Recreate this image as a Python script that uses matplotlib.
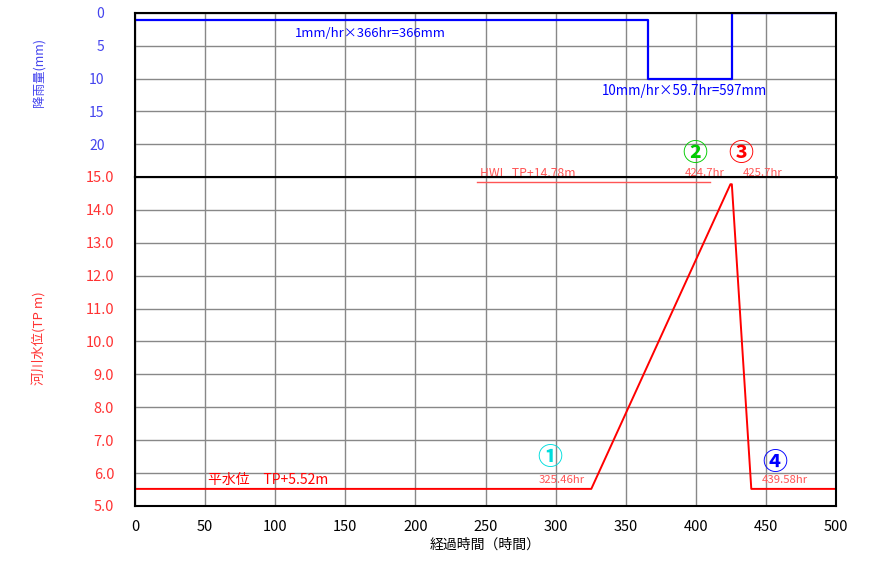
import matplotlib
matplotlib.use("Agg")
import matplotlib.pyplot as plt

plt.rcParams['font.family'] = ['Noto Sans CJK JP', 'DejaVu Sans']

# Data
rain_t = [0, 366, 366, 425.7, 425.7, 500]
rain_mm = [1, 1, 10, 10, 0, 0]
level_t = [0, 325.46, 424.7, 425.7, 439.58, 500]
level_m = [5.52, 5.52, 14.78, 14.78, 5.52, 5.52]
hwl = 14.78
x_ticks = [0, 50, 100, 150, 200, 250, 300, 350, 400, 450, 500]
rain_ticks = [0, 5, 10, 15, 20]
level_ticks = [5.0, 6.0, 7.0, 8.0, 9.0, 10.0, 11.0, 12.0, 13.0, 14.0, 15.0]

BLUE = '#0000FF'
TBLUE = '#4444EE'
RED = '#FF0000'
LRED = '#FF5555'
GRID = '#888888'

fig = plt.figure(figsize=(8.84, 5.62), dpi=100)
gs = fig.add_gridspec(2, 1, height_ratios=[164, 329], hspace=0,
                      left=135/884, right=836/884, top=1-13/562, bottom=1-506/562)
ax1 = fig.add_subplot(gs[0])
ax2 = fig.add_subplot(gs[1], sharex=ax1)

for ax in (ax1, ax2):
    ax.set_xlim(0, 500)
    ax.set_xticks(x_ticks)
    ax.grid(True, color=GRID, linewidth=1.0)
    ax.set_axisbelow(True)
    ax.tick_params(length=0)
    for s in ax.spines.values():
        s.set_color('black')
        s.set_linewidth(1.5)

# Top: rainfall
ax1.plot(rain_t, rain_mm, color=BLUE, linewidth=1.6)
ax1.set_ylim(25, 0)
ax1.set_yticks(rain_ticks)
ax1.set_yticklabels([str(v) for v in rain_ticks], color=TBLUE, fontsize=10)
ax1.tick_params(axis='y', pad=22)
ax1.tick_params(axis='x', labelbottom=False)
ax1.set_ylabel('降雨量(mm)', color=TBLUE, fontsize=9)
ax1.yaxis.set_label_coords(-0.126, 0.64)
ax1.spines['bottom'].set_linewidth(1.8)

ax1.text(168, 3.2, '1mm/hr×366hr=366mm', color=BLUE, fontsize=9.4, ha='center', va='center')
ax1.text(392, 11.9, '10mm/hr×59.7hr=597mm', color=BLUE, fontsize=9.6, ha='center', va='center')
ax1.text(399, 21.45, '②', color='#00CC00', fontsize=18, fontweight='bold', ha='center', va='center')
ax1.text(432, 21.45, '③', color=RED, fontsize=18, fontweight='bold', ha='center', va='center')
ax1.text(246, 24.4, 'HWL  TP+14.78m', color=LRED, fontsize=8.8, ha='left', va='center')
ax1.text(406.6, 24.4, '424.7hr', color=LRED, fontsize=8.2, ha='center', va='center')
ax1.text(448, 24.4, '425.7hr', color=LRED, fontsize=8.2, ha='center', va='center')

# Bottom: river level
ax2.plot(level_t, level_m, color=RED, linewidth=1.4)
ax2.plot([244, 410], [hwl + 0.07, hwl + 0.07], color=LRED, linewidth=1.0)
ax2.set_ylim(5.0, 15.0)
ax2.set_yticks(level_ticks)
ax2.set_yticklabels([f'{v:.1f}' for v in level_ticks], color='#FF3333', fontsize=10.5)
ax2.tick_params(axis='y', pad=15)
ax2.tick_params(axis='x', pad=10)
ax2.set_xticklabels([str(v) for v in x_ticks], fontsize=10.5)
ax2.set_ylabel('河川水位(TP m)', color='#FF3333', fontsize=9.5)
ax2.yaxis.set_label_coords(-0.126, 0.51)
ax2.set_xlabel('経過時間（時間）', fontsize=10, labelpad=3)

ax2.text(296, 6.46, '①', color='#00DDDD', fontsize=18, fontweight='bold', ha='center', va='center')
ax2.text(304.6, 5.78, '325.46hr', color=LRED, fontsize=8.2, ha='center', va='center')
ax2.text(456, 6.31, '④', color=BLUE, fontsize=18, fontweight='bold', ha='center', va='center')
ax2.text(463.6, 5.78, '439.58hr', color=LRED, fontsize=8.2, ha='center', va='center')
ax2.text(52, 5.78, '平水位　TP+5.52m', color=RED, fontsize=10, ha='left', va='center')

fig.savefig('out.png', dpi=100)
